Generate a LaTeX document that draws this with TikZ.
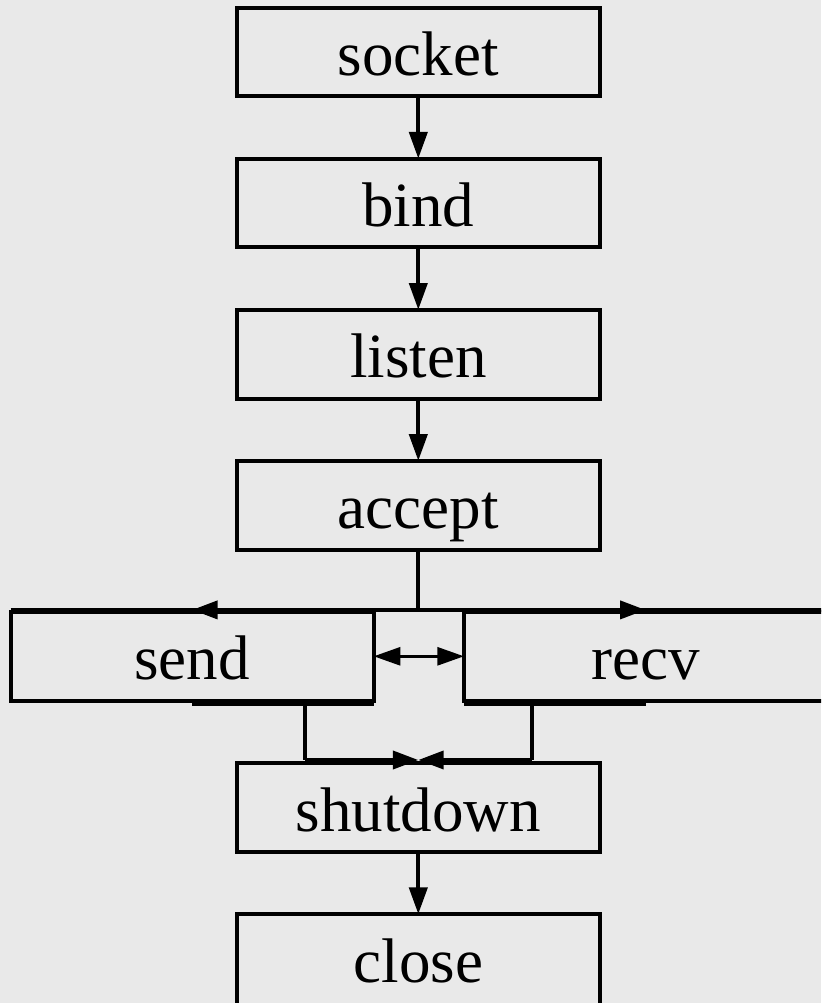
\documentclass[tikz,border=0pt]{standalone}
\usepackage{fontspec}
\setmainfont{Liberation Serif}
\usetikzlibrary{arrows.meta,calc}
\definecolor{bg}{RGB}{233,233,233}

\begin{document}
\begin{tikzpicture}[x=0.75pt,y=-0.75pt,
  box/.style={draw=black, line width=3pt, rectangle,
    minimum width=272.3pt, minimum height=66.6pt,
    inner sep=0pt, outer sep=0pt,
    font=\fontsize{47.25}{50}\selectfont,
    text height=35.4pt, text depth=0pt},
  lastbox/.style={box, minimum height=71.1pt, text height=30.9pt},
  link/.style={line width=3pt},
  flow/.style={line width=3pt, -{Triangle[length=20pt,width=13.5pt]}},
  bus/.style={line width=2.7pt},
  bustip/.style={line width=2.7pt, -{Triangle[length=19pt,width=13.5pt]}},
  both/.style={line width=2.2pt,
    {Triangle[length=20pt,width=13.5pt]}-{Triangle[length=20pt,width=13.5pt]}},
]
\useasboundingbox (0,0) rectangle (821,1003);
\clip (0,0) rectangle (821,1003);
\fill[bg] (0,0) rectangle (821,1003);

% the calls, top to bottom
\node[box] (socket)   at (418.3,51.9)  {socket};
\node[box] (bind)     at (418.3,203)   {bind};
\node[box] (listen)   at (418.3,354.1) {listen};
\node[box] (accept)   at (418.3,505.2) {accept};
\node[box] (send)     at (192.2,656.3) {send};
\node[box] (recv)     at (645.5,656.3) {recv};
\node[box] (shutdown) at (418.3,807.4) {shutdown};
\node[lastbox] (close) at (418.3,961.5) {close};

% straight sequence
\draw[flow] (socket) -- (bind);
\draw[flow] (bind) -- (listen);
\draw[flow] (listen) -- (accept);
\draw[flow] (shutdown) -- (close);

% accept splits into send and recv
\coordinate (tj) at ([yshift=1.5pt]accept.south |- send.north);
\draw[link] (accept) -- (tj);
\draw[bus] ([yshift=1.5pt]send.north west) -- ([yshift=1.5pt]recv.north east);
\draw[bustip] (tj) -- (tj -| send.north);
\draw[bustip] (tj) -- (tj -| recv.north);

% send and recv interact
\draw[both] (send) -- (recv);

% send and recv join into shutdown
\coordinate (bj) at ([yshift=2.25pt]shutdown.north);
\coordinate (sl) at ([yshift=-2.7pt]send.south);
\coordinate (sr) at ([yshift=-2.7pt]send.south east);
\coordinate (rl) at ([yshift=-2.7pt]recv.south west);
\coordinate (rr) at ([yshift=-2.7pt]recv.south);
\coordinate (sd) at ($(send.south)!0.5!(shutdown.north)$);
\coordinate (rd) at ($(recv.south)!0.5!(shutdown.north)$);
\draw[link] (sl) -- (sr);
\draw[link] (rl) -- (rr);
\draw[link] (sd |- sl) -- (sd |- bj);
\draw[link] (rd |- rl) -- (rd |- bj);
\draw[bustip] (sd |- bj) -- (bj);
\draw[bustip] (rd |- bj) -- (bj);
\end{tikzpicture}
\end{document}
